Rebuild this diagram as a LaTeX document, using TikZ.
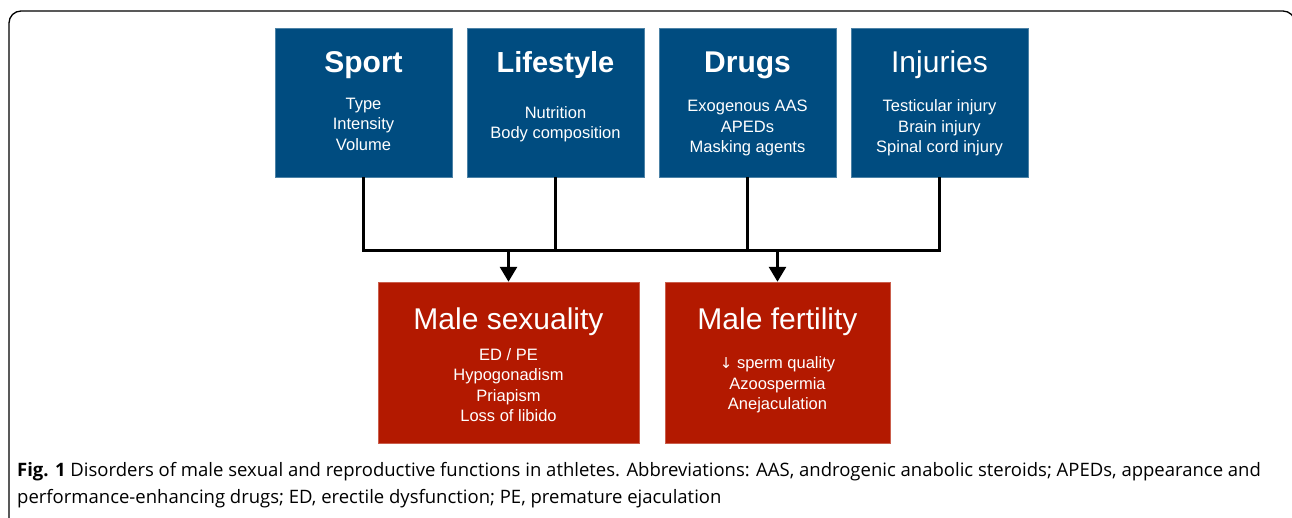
\documentclass[tikz,border=0pt]{standalone}
\usepackage{fontspec}
\setmainfont{Liberation Sans}
\newfontfamily\capfont{Open Sans}
\usetikzlibrary{positioning,arrows.meta}

\definecolor{causeblue}{RGB}{0,76,128}
\definecolor{effectred}{RGB}{179,25,0}

\tikzset{
  causebox/.style={fill=causeblue, draw=causeblue!70!white, line width=0.5pt, minimum width=177pt, minimum height=149pt, inner sep=0pt},
  effectbox/.style={fill=effectred, draw=effectred!70!white, line width=0.5pt, minimum height=161pt, inner sep=0pt},
  boxtitle/.style={text=white, anchor=base, inner sep=0pt, font=\fontsize{30}{34}\selectfont},
  boxitems/.style={text=white, align=center, inner sep=0pt, font=\fontsize{16.5}{20.5}\selectfont},
  link/.style={line width=3pt},
  arrowlink/.style={line width=3pt, -{Triangle[width=17pt,length=15pt]}}
}

\begin{document}
\begin{tikzpicture}[x=1pt, y=-1pt]
  \useasboundingbox (0,0) rectangle (1292,517);
  % outer frame, cut by the page
  \begin{scope}
    \clip (0,0) rectangle (1292,517);
    \draw[line width=1.3pt, rounded corners=12pt] (9,11) rectangle (1295,540);
  \end{scope}

  % the four causes
  \node[causebox] (sport) at (363.5, 102.5) {};
  \node[causebox] (lifestyle) at (555.5, 102.5) {};
  \node[causebox] (drugs) at (747.5, 102.5) {};
  \node[causebox] (injuries) at (939.5, 102.5) {};

  \node[boxtitle, font=\fontsize{30}{34}\bfseries] (sportt) at (363.5, 72) {Sport};
  \node[boxtitle, font=\fontsize{29}{34}\bfseries] (lifestylet) at (555.5, 72) {Lifestyle};
  \node[boxtitle, font=\fontsize{30}{34}\bfseries] (drugst) at (747.5, 72) {Drugs};
  \node[boxtitle] (injuriest) at (939.5, 72) {Injuries};

  \node[boxitems] (sporti) at (363.5, 124) {Type\\Intensity\\Volume};
  \node[boxitems] (lifestylei) at (555.5, 124) {Nutrition\\Body composition};
  \node[boxitems] (drugsi) at (747.5, 128) {Exogenous AAS\\APEDs\\Masking agents};
  \node[boxitems] (injuriesi) at (939.5, 128) {Testicular injury\\Brain injury\\Spinal cord injury};

  % the two outcomes
  \node[effectbox, minimum width=261pt] (sexuality) at (508.5, 362.5) {};
  \node[effectbox, minimum width=225pt] (fertility) at (777.5, 362.5) {};

  \node[boxtitle] (sexualityt) at (508.5, 329) {Male sexuality};
  \node[boxtitle] (fertilityt) at (777.5, 329) {Male fertility};

  \node[boxitems] (sexualityi) at (508.5, 385) {ED / PE\\Hypogonadism\\Priapism\\Loss of libido};
  \node[boxitems] (fertilityi) at (777.5, 385) {{\fontspec{DejaVu Sans}\fontsize{15}{20.5}\selectfont ↓} sperm quality\\Azoospermia\\Anejaculation};

  % connectors
  \coordinate (bus) at (0, 250);
  \draw[link] (sport.south) |- (injuries.south |- bus) -- (injuries.south);
  \draw[link] (lifestyle.south) -- (lifestyle.south |- bus);
  \draw[link] (drugs.south) -- (drugs.south |- bus);
  \draw[arrowlink] (sexuality.north |- bus) -- (sexuality.north);
  \draw[arrowlink] (fertility.north |- bus) -- (fertility.north);

  % caption
  \node[anchor=base west, inner sep=0pt, font=\capfont\fontsize{18.5}{27}\selectfont, align=left] (caption) at (17, 503)
    {\textbf{Fig. 1} Disorders of male sexual and reproductive functions in athletes. Abbreviations: AAS, androgenic anabolic steroids; APEDs, appearance and\\
     performance-enhancing drugs; ED, erectile dysfunction; PE, premature ejaculation};
\end{tikzpicture}
\end{document}
